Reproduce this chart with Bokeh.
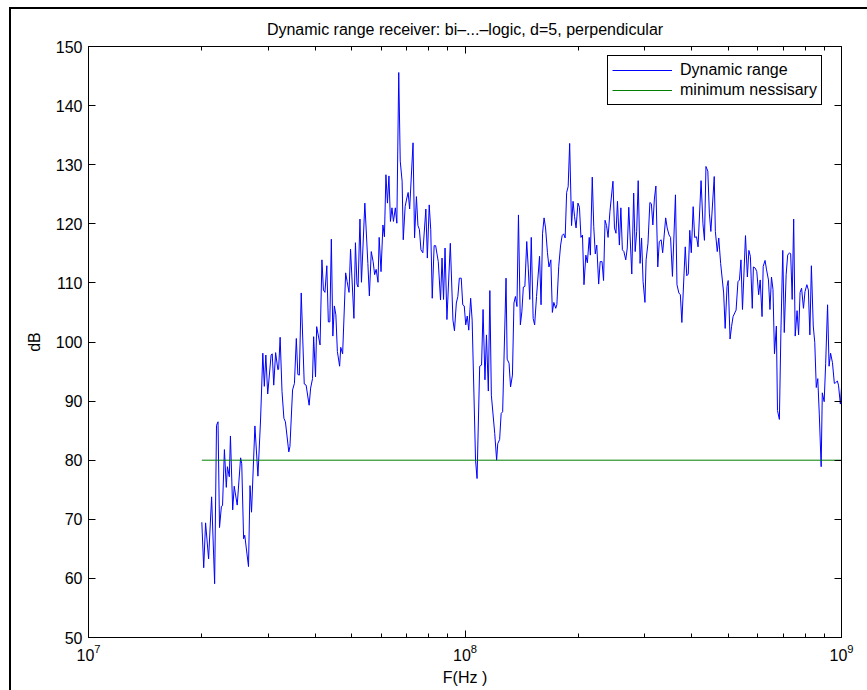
from bokeh.plotting import figure
from bokeh.models import (LogAxis, LinearAxis, FixedTicker, Legend, LegendItem,
                          Range1d, CustomJSTickFormatter)
from bokeh.embed import file_html
from bokeh.resources import INLINE

# log10 of frequency in Hz
freq_log10_hz = [
    7.301, 7.306, 7.311, 7.319, 7.327, 7.335, 7.340, 7.344, 7.348, 7.353,
    7.356, 7.361, 7.366, 7.369, 7.374, 7.377, 7.383, 7.387, 7.395, 7.404,
    7.407, 7.412, 7.415, 7.425, 7.429, 7.433, 7.442, 7.450, 7.457, 7.463,
    7.467, 7.471, 7.476, 7.485, 7.488, 7.492, 7.497, 7.503, 7.505, 7.509,
    7.514, 7.519, 7.523, 7.532, 7.535, 7.542, 7.547, 7.552, 7.556, 7.560,
    7.565, 7.573, 7.578, 7.586, 7.590, 7.595, 7.598, 7.603, 7.606, 7.615,
    7.620, 7.624, 7.628, 7.633, 7.637, 7.641, 7.645, 7.649, 7.653, 7.657,
    7.661, 7.667, 7.670, 7.675, 7.683, 7.687, 7.692, 7.696, 7.705, 7.709,
    7.713, 7.716, 7.721, 7.725, 7.734, 7.742, 7.746, 7.751, 7.756, 7.760,
    7.764, 7.769, 7.772, 7.777, 7.782, 7.786, 7.790, 7.794, 7.798, 7.802,
    7.806, 7.810, 7.815, 7.819, 7.824, 7.828, 7.833, 7.836, 7.841, 7.845,
    7.849, 7.853, 7.862, 7.866, 7.871, 7.875, 7.879, 7.883, 7.888, 7.896,
    7.900, 7.905, 7.909, 7.913, 7.918, 7.922, 7.929, 7.935, 7.939, 7.943,
    7.947, 7.952, 7.961, 7.968, 7.972, 7.977, 7.981, 7.985, 7.990, 7.994,
    7.998, 8.002, 8.006, 8.010, 8.015, 8.019, 8.028, 8.032, 8.039, 8.044,
    8.048, 8.053, 8.057, 8.062, 8.066, 8.070, 8.079, 8.084, 8.087, 8.092,
    8.096, 8.100, 8.109, 8.112, 8.117, 8.121, 8.126, 8.130, 8.134, 8.138,
    8.142, 8.147, 8.151, 8.155, 8.159, 8.164, 8.168, 8.172, 8.176, 8.181,
    8.185, 8.190, 8.198, 8.202, 8.206, 8.210, 8.214, 8.219, 8.223, 8.228,
    8.232, 8.236, 8.241, 8.244, 8.249, 8.254, 8.258, 8.262, 8.266, 8.270,
    8.274, 8.278, 8.283, 8.287, 8.291, 8.295, 8.300, 8.304, 8.308, 8.312,
    8.316, 8.321, 8.325, 8.330, 8.333, 8.338, 8.342, 8.346, 8.350, 8.355,
    8.359, 8.364, 8.368, 8.372, 8.376, 8.380, 8.385, 8.393, 8.397, 8.401,
    8.405, 8.410, 8.414, 8.418, 8.422, 8.427, 8.431, 8.435, 8.443, 8.448,
    8.452, 8.456, 8.460, 8.465, 8.469, 8.473, 8.478, 8.481, 8.486, 8.491,
    8.495, 8.499, 8.503, 8.507, 8.512, 8.516, 8.521, 8.525, 8.533, 8.537,
    8.542, 8.546, 8.551, 8.559, 8.563, 8.568, 8.572, 8.576, 8.585, 8.589,
    8.593, 8.597, 8.601, 8.606, 8.610, 8.615, 8.619, 8.627, 8.632, 8.636,
    8.640, 8.645, 8.649, 8.653, 8.662, 8.665, 8.670, 8.674, 8.679, 8.687,
    8.691, 8.696, 8.699, 8.704, 8.708, 8.712, 8.720, 8.725, 8.729, 8.733,
    8.737, 8.745, 8.750, 8.754, 8.758, 8.763, 8.766, 8.771, 8.775, 8.780,
    8.784, 8.789, 8.792, 8.797, 8.801, 8.806, 8.810, 8.814, 8.818, 8.822,
    8.827, 8.830, 8.835, 8.839, 8.844, 8.848, 8.853, 8.857, 8.862, 8.865,
    8.869, 8.873, 8.877, 8.882, 8.886, 8.890, 8.894, 8.899, 8.903, 8.908,
    8.912, 8.916, 8.920, 8.925, 8.929, 8.933, 8.937, 8.941, 8.946, 8.949,
    8.954, 8.958, 8.963, 8.967, 8.971, 8.976, 8.981, 8.984, 8.989, 8.992,
    8.997, 9.000,
]

dynamic_range_db = [
    69.5, 61.8, 69.4, 63.3, 73.8, 59.1, 85.9, 86.5, 68.6, 72.2,
    72.3, 81.8, 75.4, 78.9, 77.2, 84.1, 71.6, 75.6, 72.4, 80.4,
    79.4, 66.7, 67.3, 62.0, 75.7, 71.2, 85.8, 77.3, 86.8, 98.1,
    92.5, 97.8, 91.2, 97.8, 98.0, 92.7, 98.2, 95.3, 95.4, 100.8,
    91.6, 87.1, 86.5, 81.4, 82.3, 91.9, 93.0, 100.6, 94.5, 94.4,
    108.3, 92.9, 92.7, 89.3, 92.2, 93.8, 100.9, 94.1, 102.6, 99.5,
    113.9, 108.8, 108.4, 112.9, 103.4, 103.4, 117.4, 101.0, 106.1, 104.6,
    98.4, 95.9, 99.1, 98.0, 111.7, 110.2, 108.4, 115.7, 104.0, 116.8,
    109.8, 109.3, 120.8, 110.1, 123.5, 113.3, 107.8, 115.3, 113.6, 111.4,
    112.3, 110.1, 117.7, 111.9, 119.8, 117.8, 128.3, 123.5, 128.1, 120.4,
    122.7, 120.4, 122.7, 120.1, 145.6, 130.6, 127.2, 117.3, 122.9, 124.2,
    125.3, 122.5, 133.7, 117.6, 124.6, 119.7, 119.0, 115.6, 115.1, 122.5,
    114.2, 123.2, 119.0, 107.4, 116.3, 116.3, 113.6, 107.1, 114.2, 107.2,
    115.9, 103.8, 116.7, 103.7, 101.9, 106.6, 107.7, 110.8, 110.8, 106.3,
    106.1, 102.9, 104.4, 102.0, 107.4, 103.7, 80.0, 76.9, 95.9, 96.1,
    105.5, 93.6, 101.2, 91.7, 108.7, 91.0, 84.5, 80.0, 82.8, 83.5,
    87.9, 88.2, 110.8, 97.1, 96.4, 92.4, 94.4, 106.6, 107.7, 106.0,
    121.5, 102.9, 105.1, 109.3, 109.4, 117.0, 112.5, 107.2, 117.7, 104.0,
    102.9, 107.7, 114.5, 106.3, 118.4, 121.0, 119.3, 115.1, 112.7, 113.9,
    105.0, 106.7, 105.7, 106.3, 112.8, 116.4, 118.0, 118.3, 117.6, 125.3,
    126.3, 133.6, 119.7, 123.8, 121.2, 119.3, 123.5, 122.8, 117.7, 118.1,
    109.7, 114.7, 113.4, 117.7, 114.7, 127.9, 119.5, 114.9, 116.4, 109.8,
    113.6, 113.6, 110.4, 120.6, 119.7, 117.7, 122.1, 127.2, 119.3, 118.4,
    123.8, 116.4, 122.7, 115.6, 115.3, 113.9, 115.9, 122.8, 111.5, 125.2,
    115.3, 118.7, 127.3, 113.3, 117.6, 110.2, 106.7, 113.9, 116.7, 123.6,
    123.4, 119.8, 124.2, 126.4, 112.7, 117.0, 117.3, 115.1, 121.0, 119.3,
    118.1, 117.7, 111.1, 124.9, 109.7, 108.3, 108.0, 103.3, 116.1, 111.2,
    111.5, 118.9, 115.1, 122.9, 117.7, 117.8, 116.1, 127.3, 120.0, 117.2,
    129.7, 128.9, 121.8, 118.7, 128.0, 118.7, 115.3, 117.6, 113.3, 108.3,
    102.3, 109.4, 110.4, 100.5, 102.6, 104.3, 105.4, 110.2, 110.5, 113.9,
    105.5, 118.0, 111.0, 115.5, 114.5, 105.7, 112.7, 112.5, 111.9, 108.0,
    110.5, 104.3, 112.8, 113.8, 112.2, 110.5, 105.5, 111.0, 108.9, 98.0,
    102.7, 88.4, 86.9, 101.5, 115.5, 101.6, 111.4, 114.7, 115.1, 114.9,
    107.2, 120.8, 101.0, 105.3, 101.2, 108.4, 109.1, 105.7, 108.5, 109.7,
    108.8, 101.2, 112.9, 102.7, 99.9, 92.3, 93.8, 87.8, 78.9, 91.4,
    89.9, 96.4, 106.3, 95.9, 98.1, 96.5, 93.0, 93.1, 93.4, 92.7,
    89.5, 92.3,
]

min_freq_hz = [2e7, 1e9]
min_db = [80, 80]

x_major_ticks = [1e7, 1e8, 1e9]
x_minor_ticks = [2e7, 3e7, 4e7, 5e7, 6e7, 7e7, 8e7, 9e7,
                 2e8, 3e8, 4e8, 5e8, 6e8, 7e8, 8e8, 9e8]
y_ticks = [50, 60, 70, 80, 90, 100, 110, 120, 130, 140, 150]

title_text = "Dynamic range receiver: bi\u2013...\u2013logic, d=5, perpendicular"
x_label = "F(Hz )"
y_label = "dB"
legend_labels = ["Dynamic range", "minimum nessisary"]

FONT = "Liberation Sans"

freq_hz = [10 ** v for v in freq_log10_hz]

p = figure(width=856, height=681, x_axis_type="log",
           x_range=Range1d(1e7, 1e9), y_range=Range1d(50, 150),
           output_backend="svg", toolbar_location=None,
           min_border_left=77, min_border_right=28,
           min_border_top=36, min_border_bottom=55,
           title=title_text)

# outer figure frame (left and top edges visible in the reference)
p.margin = (7, 0, 0, 9)
p.styles = {"border-left": "2px solid black", "border-top": "2px solid black",
            "box-sizing": "content-box"}

p.background_fill_color = "white"
p.border_fill_color = "white"
p.outline_line_color = "black"
p.outline_line_alpha = 1
p.outline_line_width = 1
p.grid.visible = False

p.title.text_font = FONT
p.title.text_font_size = "16px"
p.title.text_font_style = "normal"
p.title.align = "center"
p.title.text_color = "black"
p.title.standoff = 18

r1 = p.line(freq_hz, dynamic_range_db, line_color="#0000ff", line_width=1)
r2 = p.line(min_freq_hz, min_db, line_color="#008000", line_width=1)

xa = p.xaxis[0]
xa.ticker = FixedTicker(ticks=x_major_ticks, minor_ticks=x_minor_ticks)
ya = p.yaxis[0]
ya.ticker = FixedTicker(ticks=y_ticks)

for ax in (xa, ya):
    ax.major_tick_in = 7
    ax.major_tick_out = 0
    ax.minor_tick_in = 4
    ax.minor_tick_out = 0
    ax.axis_line_color = "black"
    ax.major_tick_line_color = "black"
    ax.minor_tick_line_color = "black"
    ax.major_label_text_font = FONT
    ax.major_label_text_font_size = "16px"
    ax.major_label_text_color = "black"
    ax.axis_label_text_font = FONT
    ax.axis_label_text_font_size = "16px"
    ax.axis_label_text_font_style = "normal"
    ax.axis_label_text_color = "black"

xa.axis_label = x_label
ya.axis_label = y_label
xa.major_label_standoff = 6
xa.axis_label_standoff = 5
ya.major_label_standoff = 6
ya.axis_label_standoff = 10
ya.minor_tick_in = 0

blank = "return ''"
top_axis = LogAxis(ticker=FixedTicker(ticks=x_major_ticks, minor_ticks=x_minor_ticks),
                   formatter=CustomJSTickFormatter(code=blank),
                   major_tick_in=7, major_tick_out=0, minor_tick_in=4, minor_tick_out=0,
                   major_label_text_font_size="0px", major_label_standoff=0)
right_axis = LinearAxis(ticker=FixedTicker(ticks=y_ticks),
                        formatter=CustomJSTickFormatter(code=blank),
                        major_tick_in=7, major_tick_out=0, minor_tick_in=0, minor_tick_out=0,
                        major_label_text_font_size="0px", major_label_standoff=0)
p.add_layout(top_axis, "above")
p.add_layout(right_axis, "right")

legend = Legend(items=[LegendItem(label=legend_labels[0], renderers=[r1]),
                       LegendItem(label=legend_labels[1], renderers=[r2])],
                location=(519, 532))
legend.border_line_color = "black"
legend.border_line_width = 1
legend.border_line_alpha = 1
legend.background_fill_color = "white"
legend.background_fill_alpha = 1
legend.label_text_font = FONT
legend.label_text_font_size = "16px"
legend.label_text_color = "black"
legend.glyph_width = 60
legend.glyph_height = 20
legend.label_height = 20
legend.label_standoff = 8
legend.spacing = 0
legend.padding = 4
legend.margin = 0
p.add_layout(legend)

open("out.html", "w").write(file_html(p, INLINE))
